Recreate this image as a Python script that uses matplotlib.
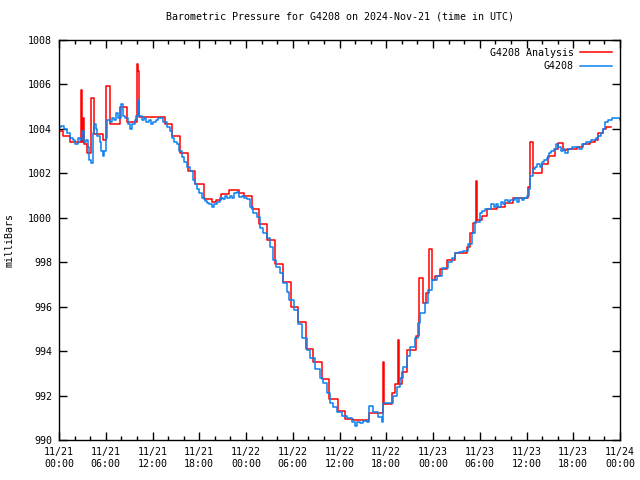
import numpy as np
import matplotlib
matplotlib.use('Agg')
import matplotlib.pyplot as plt
from matplotlib.ticker import MultipleLocator

# tempo em horas desde 2024-11-21 00:00 UTC
anal_h = [0.0, 0.5, 1.4, 2.85, 2.95, 3.08, 3.2, 3.6, 4.1, 4.5, 5.65, 6.03, 6.55, 7.83, 8.73,
          10.05, 10.15, 10.27, 13.6, 14.5, 15.53, 16.56, 17.46, 18.6, 19.64, 20.15, 20.8,
          21.82, 23.1, 23.75, 24.78, 25.67, 26.7, 27.73, 28.75, 29.78, 30.68, 31.7, 32.6,
          33.76, 34.66, 35.8, 36.7, 37.74, 39.8, 41.6, 41.7, 42.75, 43.1, 43.5, 43.6, 44.0,
          44.7, 45.8, 46.2, 46.7, 47.1, 47.5, 47.9, 48.3, 48.9, 49.8, 50.8, 52.4, 52.8, 53.1,
          53.5, 53.65, 54.3, 54.9, 56.2, 57.25, 58.3, 60.2, 60.46, 60.85, 62.0, 62.8, 63.7,
          64.05, 64.7, 65.2, 66.5, 67.3, 68.2, 68.8, 69.2, 69.8, 70.2, 70.9]
anal_p = [1003.9, 1003.7, 1003.4, 1005.75, 1003.4, 1004.5, 1003.3, 1002.9, 1005.4, 1003.75,
          1003.5, 1005.95, 1004.2, 1005.0, 1004.3, 1006.9, 1006.6, 1004.55, 1004.2, 1003.7,
          1002.9, 1002.1, 1001.5, 1000.85, 1000.7, 1000.8, 1001.07, 1001.25, 1001.1, 1001.0,
          1000.4, 999.7, 999.0, 997.9, 997.1, 996.0, 995.3, 994.1, 993.5, 992.75, 991.85,
          991.3, 990.95, 990.9, 991.2, 993.5, 991.6, 992.1, 992.5, 994.5, 992.5, 993.05,
          994.05, 994.7, 997.3, 996.15, 996.6, 998.6, 997.2, 997.4, 997.7, 998.1, 998.4,
          998.7, 999.3, 999.75, 1001.65, 999.9, 1000.1, 1000.4, 1000.5, 1000.65, 1000.9,
          1001.4, 1003.4, 1002.0, 1002.4, 1002.8, 1003.1, 1003.35, 1003.05, 1003.1, 1003.2,
          1003.3, 1003.4, 1003.5, 1003.8, 1004.0, 1004.1, 1004.1]

obs_h = [0.0, 0.3, 0.6, 1.0, 1.4, 1.8, 2.1, 2.4, 2.7, 2.95, 3.2, 3.5, 3.7, 3.9, 4.1, 4.3,
         4.45, 4.7, 4.9, 5.2, 5.4, 5.6, 5.8, 6.0, 6.2, 6.5, 6.8, 7.0, 7.3, 7.6, 7.9, 8.2,
         8.5, 8.8, 9.1, 9.4, 9.7, 9.9, 10.1, 10.3, 10.6, 10.9, 11.2, 11.5, 11.8, 12.1, 12.4,
         12.7, 13.0, 13.3, 13.6, 13.9, 14.2, 14.5, 14.8, 15.1, 15.4, 15.8, 16.1, 16.4, 16.8,
         17.2, 17.5, 17.7, 18.0, 18.4, 18.7, 19.0, 19.3, 19.6, 19.9, 20.3, 20.7, 21.0, 21.3,
         21.5, 21.9, 22.2, 22.5, 22.8, 23.1, 23.5, 23.8, 24.1, 24.5, 24.9, 25.4, 25.8, 26.2,
         26.7, 27.1, 27.5, 27.9, 28.4, 28.8, 29.2, 29.5, 30.1, 30.7, 31.2, 31.8, 32.2, 32.9,
         33.5, 33.9, 34.4, 34.8, 35.2, 35.7, 36.3, 37.0, 37.6, 38.0, 38.3, 38.6, 39.0, 39.5,
         39.8, 40.3, 41.0, 41.4, 41.6, 42.2, 42.9, 43.4, 43.8, 44.2, 44.6, 45.1, 45.7, 46.1,
         46.3, 47.0, 47.4, 47.9, 48.5, 49.2, 49.9, 50.4, 50.8, 51.3, 51.9, 52.5, 53.0, 53.4,
         54.0, 54.3, 54.7, 55.2, 55.5, 55.8, 56.1, 56.4, 56.7, 57.0, 57.3, 57.6, 57.9, 58.2,
         58.5, 58.8, 59.1, 59.4, 59.7, 60.0, 60.3, 60.5, 60.8, 61.1, 61.4, 61.7, 62.0, 62.3,
         62.6, 62.9, 63.2, 63.5, 63.8, 64.1, 64.4, 64.7, 65.0, 65.3, 65.6, 65.9, 66.2, 66.5,
         66.8, 67.1, 67.4, 67.7, 68.0, 68.3, 68.6, 68.9, 69.2, 69.5, 69.8, 70.1, 70.4, 70.7,
         71.0, 71.3, 71.6, 72.0]
obs_p = [1004.1, 1004.15, 1004.0, 1003.8, 1003.6, 1003.5, 1003.3, 1003.6, 1003.5, 1003.9,
         1003.4, 1003.5, 1003.2, 1002.6, 1002.45, 1003.8, 1004.2, 1004.0, 1003.7, 1003.4,
         1003.0, 1002.8, 1003.0, 1003.6, 1004.4, 1004.3, 1004.5, 1004.4, 1004.7, 1004.5,
         1005.1, 1004.6, 1004.5, 1004.2, 1004.0, 1004.2, 1004.4, 1004.6, 1005.3, 1004.6,
         1004.4, 1004.5, 1004.3, 1004.4, 1004.2, 1004.3, 1004.4, 1004.5, 1004.5, 1004.3,
         1004.3, 1004.1, 1003.9, 1003.6, 1003.4, 1003.3, 1003.0, 1002.75, 1002.5, 1002.3,
         1002.1, 1001.7, 1001.5, 1001.3, 1001.1, 1000.9, 1000.75, 1000.65, 1000.6, 1000.5,
         1000.6, 1000.7, 1000.9, 1000.85, 1001.0, 1000.9, 1001.0, 1000.9, 1001.1, 1001.15,
         1000.95, 1001.0, 1000.9, 1000.85, 1000.5, 1000.2, 1000.05, 999.55, 999.3, 999.1,
         998.7, 998.1, 997.8, 997.5, 997.05, 996.65, 996.3, 995.85, 995.2, 994.6, 994.05,
         993.7, 993.2, 992.8, 992.55, 992.1, 991.65, 991.5, 991.25, 991.1, 991.0, 990.8,
         990.65, 990.8, 990.75, 990.85, 990.8, 991.55, 991.25, 991.05, 990.8, 991.65, 991.65,
         992.0, 992.4, 992.8, 993.3, 993.8, 994.2, 994.6, 995.25, 995.7, 996.15, 996.75,
         997.2, 997.4, 997.75, 998.0, 998.2, 998.4, 998.45, 998.5, 998.8, 999.3, 999.8,
         1000.2, 1000.3, 1000.4, 1000.4, 1000.6, 1000.5, 1000.6, 1000.5, 1000.7, 1000.6,
         1000.8, 1000.7, 1000.8, 1000.8, 1000.9, 1000.7, 1000.9, 1000.8, 1000.9, 1001.0,
         1001.3, 1001.9, 1002.2, 1002.3, 1002.4, 1002.3, 1002.5, 1002.6, 1002.7, 1002.9,
         1003.0, 1003.1, 1003.3, 1003.2, 1003.0, 1003.1, 1002.9, 1003.1, 1003.1, 1003.2,
         1003.2, 1003.2, 1003.1, 1003.3, 1003.3, 1003.4, 1003.4, 1003.5, 1003.5, 1003.6,
         1003.7, 1003.8, 1004.0, 1004.3, 1004.4, 1004.4, 1004.5, 1004.5, 1004.5, 1004.4]

xtick_labels = ['11/21\n00:00', '11/21\n06:00', '11/21\n12:00', '11/21\n18:00',
                '11/22\n00:00', '11/22\n06:00', '11/22\n12:00', '11/22\n18:00',
                '11/23\n00:00', '11/23\n06:00', '11/23\n12:00', '11/23\n18:00',
                '11/24\n00:00']

plt.rcParams['font.family'] = 'DejaVu Sans Mono'
plt.rcParams['font.size'] = 7.2

fig = plt.figure(figsize=(6.4, 4.8), dpi=100)
ax = fig.add_axes([59/640, 40/480, 561/640, 400/480])

ax.plot(anal_h, anal_p, color='#ff0000', lw=1.1, drawstyle='steps-post', label='G4208 Analysis')
ax.plot(obs_h, obs_p, color='#0a80f0', lw=1.1, drawstyle='steps-post', label='G4208')

ax.set_xlim(0, 72)
ax.set_ylim(990, 1008)
ax.set_xticks(np.arange(0, 73, 6))
ax.set_xticklabels(xtick_labels)
ax.xaxis.set_minor_locator(MultipleLocator(2))
ax.yaxis.set_major_locator(MultipleLocator(2))
ax.tick_params(which='both', direction='in', top=True, right=True, width=1, colors='black')
ax.tick_params(which='major', length=6, pad=5)
ax.tick_params(which='minor', length=3)
for s in ax.spines.values():
    s.set_linewidth(1)

ax.set_ylabel('milliBars', labelpad=10)
ax.set_title('Barometric Pressure for G4208 on 2024-Nov-21 (time in UTC)', fontsize=7.2, pad=15)
ax.legend(loc='upper right', frameon=False, markerfirst=False, handlelength=3.2,
          borderaxespad=0.4, labelspacing=0.35, handletextpad=0.6)

fig.savefig('out.png', dpi=100)
